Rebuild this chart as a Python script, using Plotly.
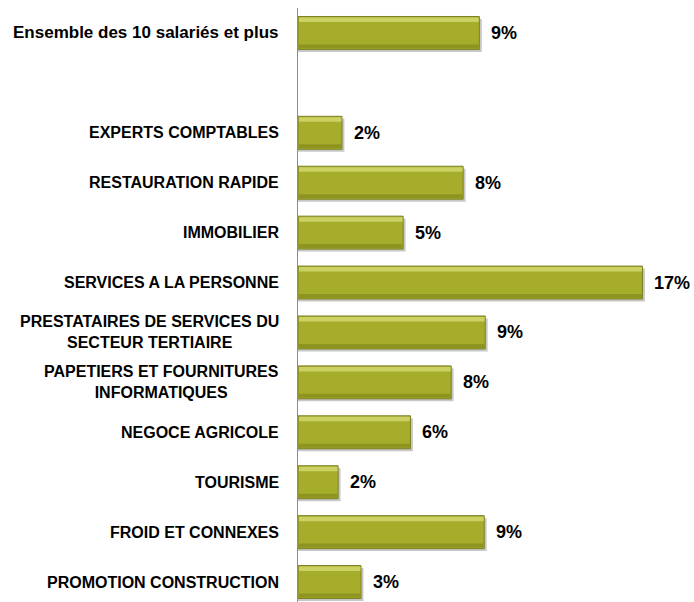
import plotly.graph_objects as go

categories = [
    "Ensemble des 10 salariés et plus",
    " ",
    "EXPERTS COMPTABLES",
    "RESTAURATION RAPIDE",
    "IMMOBILIER",
    "SERVICES A LA PERSONNE",
    "PRESTATAIRES DE SERVICES DU<br>SECTEUR TERTIAIRE",
    "PAPETIERS ET FOURNITURES<br>INFORMATIQUES",
    "NEGOCE AGRICOLE",
    "TOURISME",
    "FROID ET CONNEXES",
    "PROMOTION CONSTRUCTION",
]
values = [8.95, None, 2.17, 8.15, 5.19, 17.0, 9.24, 7.56, 5.55, 1.98, 9.19, 3.11]

FONT = "Liberation Sans, Arial, sans-serif"
BW = 0.66  # bar thickness in category units

fig = go.Figure()

# soft drop shadow
fig.add_trace(go.Bar(
    y=categories, x=[None if v is None else v + 0.12 for v in values],
    orientation="h", width=BW, offset=-BW / 2 + 0.05,
    marker=dict(color="rgba(0,0,0,0.22)", line=dict(width=0)),
    hoverinfo="skip", showlegend=False,
))
# main bar
fig.add_trace(go.Bar(
    y=categories, x=values, orientation="h", width=BW, offset=-BW / 2,
    marker=dict(color="#A6AD2B", line=dict(color="#7C8126", width=1)),
    showlegend=False,
))
# top highlight
fig.add_trace(go.Bar(
    y=categories, x=[None if v is None else v - 0.08 for v in values],
    orientation="h", width=0.09, offset=-BW / 2 + 0.02, base=0.05,
    marker=dict(color="#CBD163", line=dict(width=0)),
    hoverinfo="skip", showlegend=False,
))
# bottom shade
fig.add_trace(go.Bar(
    y=categories, x=[None if v is None else v - 0.08 for v in values],
    orientation="h", width=0.08, offset=BW / 2 - 0.10, base=0.05,
    marker=dict(color="#8E9420", line=dict(width=0)),
    hoverinfo="skip", showlegend=False,
))

annotations = []
for c, v in zip(categories, values):
    if v is None:
        continue
    annotations.append(dict(
        x=0, y=c, xref="x", yref="y", text=c, showarrow=False,
        xanchor="right", yanchor="middle", align="center", xshift=-17,
        font=dict(family=FONT, size=17 if c.startswith("Ens") else 16,
                  color="#000000", weight="bold"),
    ))
    annotations.append(dict(
        x=v, y=c, xref="x", yref="y", text=f"{v:.0f}%", showarrow=False,
        xanchor="left", yanchor="middle", xshift=10,
        font=dict(family=FONT, size=18, color="#000000", weight="bold"),
    ))

fig.update_layout(
    width=694, height=602,
    margin=dict(l=298, r=11, t=8, b=0),
    paper_bgcolor="white", plot_bgcolor="white",
    barmode="overlay",
    annotations=annotations,
    xaxis=dict(range=[0, 19], showgrid=False, zeroline=False,
               showticklabels=False, showline=False, fixedrange=True),
    yaxis=dict(type="category", categoryorder="array", categoryarray=categories,
               range=[11.4, -0.5], showgrid=False, zeroline=False,
               showticklabels=False, showline=True, linecolor="#8C8C8C",
               linewidth=1, ticks=""),
)

fig.write_html(
    "out.html",
    config={"displayModeBar": False},
    post_script="document.body.style.margin='0';document.body.style.padding='0';",
)
